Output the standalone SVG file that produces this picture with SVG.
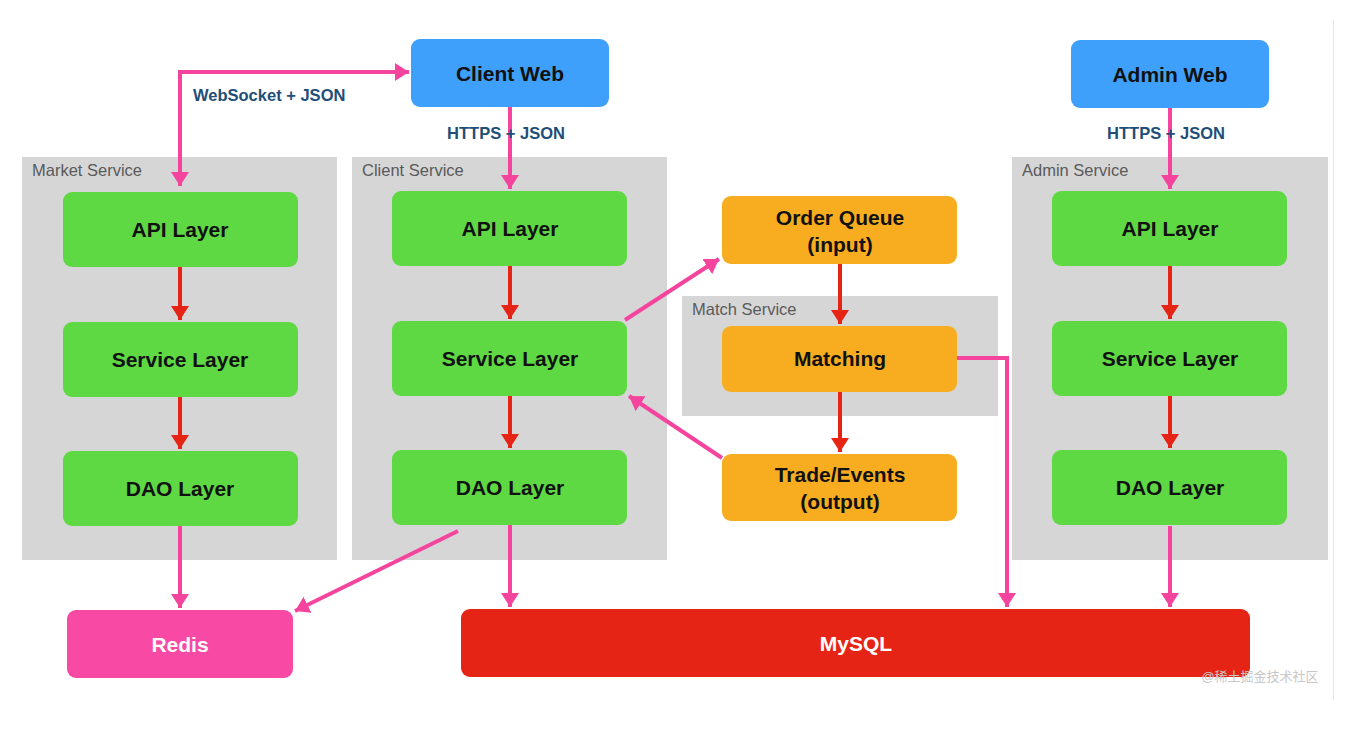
<svg xmlns="http://www.w3.org/2000/svg" width="1371" height="746" viewBox="0 0 1371 746">
<style>
.cont{fill:#d6d6d6}
.clab{font-family:"Liberation Sans",Arial,sans-serif;font-size:16.5px;fill:#5a5a5a}
.g{fill:#5fd943}
.o{fill:#f8ad20}
.b{fill:#3fa0fb}
.t{font-family:"Liberation Sans",Arial,sans-serif;font-size:21px;font-weight:bold;fill:#111;text-anchor:middle}
.tw{font-family:"Liberation Sans",Arial,sans-serif;font-size:21px;font-weight:bold;fill:#fff;text-anchor:middle}
.lab{font-family:"Liberation Sans",Arial,sans-serif;font-size:16.5px;font-weight:bold;fill:#1f4e79}
.red{stroke:#e52416;stroke-width:4;fill:none;marker-end:url(#ar)}
.pk{stroke:#f5449e;stroke-width:4;fill:none;marker-end:url(#ap)}
</style>
<defs>
<marker id="ar" markerUnits="userSpaceOnUse" markerWidth="20" markerHeight="20" refX="14" refY="9" orient="auto"><path d="M0,0 L14,9 L0,18 Z" fill="#e52416"/></marker>
<marker id="ap" markerUnits="userSpaceOnUse" markerWidth="20" markerHeight="20" refX="14" refY="9" orient="auto"><path d="M0,0 L14,9 L0,18 Z" fill="#f5449e"/></marker>
<marker id="aps" markerUnits="userSpaceOnUse" markerWidth="20" markerHeight="20" refX="0" refY="9" orient="auto"><path d="M14,0 L0,9 L14,18 Z" fill="#f5449e"/></marker>
</defs>
<rect width="1371" height="746" fill="#fff"/>
<line x1="1333.500" y1="20" x2="1333.500" y2="700" stroke="#e6e6e6" stroke-width="1"/>

<g id="market-service">
<rect class="cont" x="22" y="157" width="315" height="403"/>
<text class="clab" x="32" y="176">Market Service</text>
</g>
<g id="client-service">
<rect class="cont" x="352" y="157" width="315" height="403"/>
<text class="clab" x="362" y="176">Client Service</text>
</g>
<g id="match-service">
<rect class="cont" x="682" y="296" width="316" height="120"/>
<text class="clab" x="692" y="315">Match Service</text>
</g>
<g id="admin-service">
<rect class="cont" x="1012" y="157" width="316" height="403"/>
<text class="clab" x="1022" y="176">Admin Service</text>
</g>

<g id="connectors">
<path class="pk" d="M180,186 L180,72 L409,72" marker-start="url(#aps)"/>
<line class="pk" x1="510" y1="107" x2="510" y2="189"/>
<line class="pk" x1="1170" y1="108" x2="1170" y2="189"/>
<line class="red" x1="180" y1="267" x2="180" y2="320"/>
<line class="red" x1="180" y1="397" x2="180" y2="449"/>
<line class="red" x1="510" y1="266" x2="510" y2="319"/>
<line class="red" x1="510" y1="396" x2="510" y2="448"/>
<line class="red" x1="1170" y1="266" x2="1170" y2="319"/>
<line class="red" x1="1170" y1="396" x2="1170" y2="448"/>
<line class="red" x1="840" y1="264" x2="840" y2="324"/>
<line class="red" x1="840" y1="392" x2="840" y2="452"/>
<line class="pk" x1="625" y1="320" x2="719" y2="259"/>
<line class="pk" x1="722" y1="458" x2="629" y2="396"/>
<path class="pk" d="M957,358 L1007,358 L1007,607"/>
<line class="pk" x1="180" y1="526" x2="180" y2="608"/>
<line class="pk" x1="458" y1="531" x2="295" y2="611"/>
<line class="pk" x1="510" y1="525" x2="510" y2="607"/>
<line class="pk" x1="1170" y1="526" x2="1170" y2="607"/>
</g>

<g id="labels">
<text class="lab" x="193" y="101">WebSocket + JSON</text>
<text class="lab" x="506" y="139" text-anchor="middle">HTTPS + JSON</text>
<text class="lab" x="1166" y="139" text-anchor="middle">HTTPS + JSON</text>
</g>

<g id="client-web"><rect class="b" x="411" y="39" width="198" height="68" rx="9"/><text class="t" x="510" y="81">Client Web</text></g>
<g id="admin-web"><rect class="b" x="1071" y="40" width="198" height="68" rx="9"/><text class="t" x="1170" y="82">Admin Web</text></g>

<g id="market-api"><rect class="g" x="63" y="192" width="235" height="75" rx="9"/><text class="t" x="180" y="237">API Layer</text></g>
<g id="market-svc"><rect class="g" x="63" y="322" width="235" height="75" rx="9"/><text class="t" x="180" y="367">Service Layer</text></g>
<g id="market-dao"><rect class="g" x="63" y="451" width="235" height="75" rx="9"/><text class="t" x="180" y="496">DAO Layer</text></g>

<g id="client-api"><rect class="g" x="392" y="191" width="235" height="75" rx="9"/><text class="t" x="510" y="236">API Layer</text></g>
<g id="client-svc"><rect class="g" x="392" y="321" width="235" height="75" rx="9"/><text class="t" x="510" y="366">Service Layer</text></g>
<g id="client-dao"><rect class="g" x="392" y="450" width="235" height="75" rx="9"/><text class="t" x="510" y="495">DAO Layer</text></g>

<g id="admin-api"><rect class="g" x="1052" y="191" width="235" height="75" rx="9"/><text class="t" x="1170" y="236">API Layer</text></g>
<g id="admin-svc"><rect class="g" x="1052" y="321" width="235" height="75" rx="9"/><text class="t" x="1170" y="366">Service Layer</text></g>
<g id="admin-dao"><rect class="g" x="1052" y="450" width="235" height="75" rx="9"/><text class="t" x="1170" y="495">DAO Layer</text></g>

<g id="order-queue"><rect class="o" x="722" y="196" width="235" height="68" rx="9"/><text class="t" x="840" y="225">Order Queue</text><text class="t" x="840" y="252">(input)</text></g>
<g id="matching"><rect class="o" x="722" y="326" width="235" height="66" rx="9"/><text class="t" x="840" y="366">Matching</text></g>
<g id="trade-events"><rect class="o" x="722" y="454" width="235" height="67" rx="9"/><text class="t" x="840" y="482">Trade/Events</text><text class="t" x="840" y="509">(output)</text></g>

<g id="redis"><rect x="67" y="610" width="226" height="68" rx="9" fill="#f84aa4"/><text class="tw" x="180" y="652">Redis</text></g>
<g id="mysql"><rect x="461" y="609" width="789" height="68" rx="9" fill="#e52416"/><text class="tw" x="856" y="651">MySQL</text></g>

<text x="1260" y="681" text-anchor="middle" font-family="'Liberation Sans','Noto Sans CJK SC',sans-serif" font-size="13" fill="#c8c8c8">@稀土掘金技术社区</text>
</svg>
